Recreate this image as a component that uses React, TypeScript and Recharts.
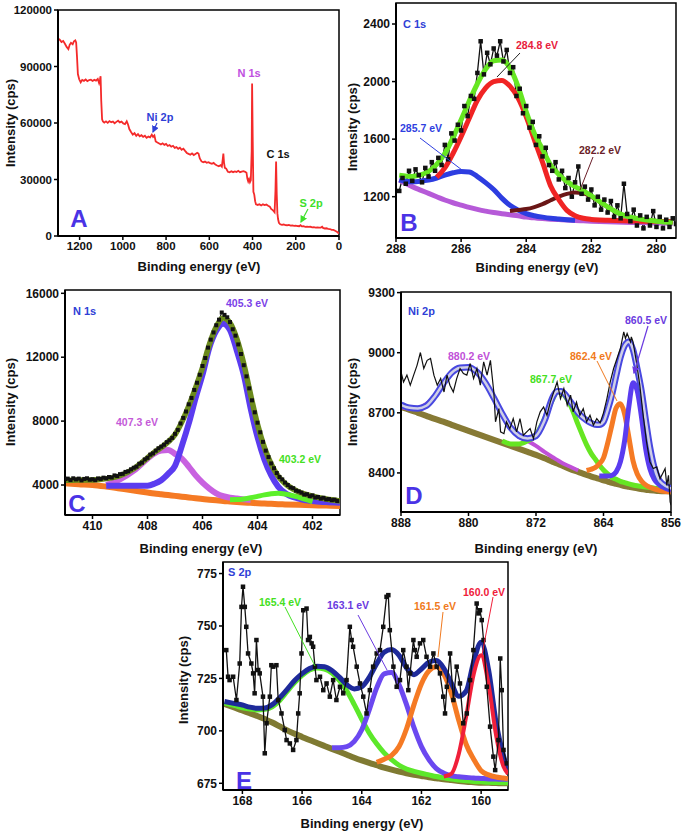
import React from 'react';
import { LineChart, Line, XAxis, YAxis, ReferenceArea } from 'recharts';

const FONT = '"Liberation Sans", Arial, Helvetica, sans-serif';

// ---------- A: survey ----------
const surveyEnergy = [
  1300, 1292, 1284, 1276, 1268, 1260, 1252, 1246, 1240, 1232,
  1226, 1220, 1216, 1212, 1208, 1202, 1195, 1188, 1180, 1172,
  1164, 1156, 1148, 1140, 1132, 1124, 1116, 1110, 1106, 1103,
  1100, 1096, 1092, 1086, 1078, 1070, 1062, 1054, 1046, 1038,
  1030, 1022, 1014, 1006, 998, 990, 982, 976, 970, 962,
  954, 946, 938, 930, 922, 914, 906, 898, 890, 882,
  874, 866, 860, 854, 848, 840, 832, 824, 816, 808,
  800, 792, 784, 776, 768, 760, 752, 744, 736, 728,
  720, 712, 704, 696, 688, 680, 672, 664, 656, 650,
  644, 636, 628, 620, 612, 604, 596, 588, 580, 572,
  564, 556, 548, 542, 538, 535, 532, 528, 522, 514,
  506, 498, 490, 482, 474, 466, 458, 450, 442, 434,
  428, 424, 420, 416, 412, 408, 404, 402, 399, 396,
  392, 388, 384, 376, 368, 360, 352, 344, 336, 328,
  320, 314, 308, 302, 298, 294, 291, 288, 285, 282,
  278, 272, 264, 256, 248, 240, 232, 224, 216, 208,
  200, 192, 184, 178, 172, 164, 156, 148, 140, 132,
  124, 116, 108, 100, 92, 84, 78, 74, 66, 58,
  50, 42, 34, 26, 18, 10, 4, 0,
];
const surveyCounts = [
  104800, 104200, 103000, 103600, 102100, 100400, 99200, 101500, 102600, 101800,
  103400, 103900, 102800, 95000, 86000, 83200, 81600, 82900, 82400, 83100,
  82200, 82800, 83000, 82300, 82900, 82500, 83400, 81200, 83000, 84800,
  72000, 62000, 60800, 60200, 60900, 60100, 61000, 60400, 60800, 59900,
  60600, 61200, 60300, 60700, 59800, 59400, 60900, 59200, 56800, 55200,
  53800, 54600, 53200, 54100, 52900, 53500, 52600, 53200, 52100, 52800,
  52400, 53800, 52600, 53400, 50200, 49600, 49100, 48600, 49200, 48400,
  48900, 47800, 48300, 47400, 47900, 46800, 47200, 46300, 46900, 45800,
  46400, 45200, 44100, 43600, 43200, 43900, 43000, 43600, 44200, 43800,
  41200, 39600, 39100, 39500, 38900, 39200, 38700, 38300, 38800, 37900,
  37400, 37000, 37600, 36800, 40500, 43800, 39000, 36200, 35800, 34100,
  33800, 34400, 33900, 34300, 34000, 34600, 33900, 34200, 34400, 34100,
  33600, 30500, 29000, 30200, 28600, 29600, 45000, 81000, 50000, 23500,
  22000, 18500, 16800, 16500, 16900, 16200, 16800, 16400, 16700, 16100,
  15600, 14400, 13900, 13200, 12600, 24000, 39500, 22000, 12000, 9000,
  7000, 6200, 5900, 6100, 5800, 5700, 5900, 5500, 5600, 5400,
  5500, 5300, 5200, 5700, 5100, 5200, 4900, 5000, 4800, 4900,
  4600, 4700, 4500, 4600, 4400, 4500, 4900, 4300, 4000, 4100,
  3800, 3700, 3300, 3200, 2800, 2200, 1700, 1200,
];

// ---------- B: C 1s ----------
const c1sEnergy = [
  287.9, 287.8, 287.7, 287.6, 287.5, 287.4, 287.3, 287.2, 287.1, 287.0,
  286.9, 286.8, 286.7, 286.6, 286.5, 286.4, 286.3, 286.2, 286.1, 286.0,
  285.9, 285.8, 285.7, 285.6, 285.5, 285.4, 285.3, 285.2, 285.1, 285.0,
  284.9, 284.8, 284.7, 284.6, 284.5, 284.4, 284.3, 284.2, 284.1, 284.0,
  283.9, 283.8, 283.7, 283.6, 283.5, 283.4, 283.3, 283.2, 283.1, 283.0,
  282.9, 282.8, 282.7, 282.6, 282.5, 282.4, 282.3, 282.2, 282.1, 282.0,
  281.9, 281.8, 281.7, 281.6, 281.5, 281.4, 281.3, 281.2, 281.1, 281.0,
  280.9, 280.8, 280.7, 280.6, 280.5, 280.4, 280.3, 280.2, 280.1, 280.0,
  279.9, 279.8, 279.7, 279.6, 279.5, 279.4,
];
const c1sCounts = [
  1240, 1330, 1290, 1380, 1310, 1390, 1350, 1300, 1400, 1340,
  1440, 1380, 1470, 1420, 1560, 1460, 1640, 1590, 1700, 1660,
  1830, 1760, 1900, 1880, 2060, 2280, 2050, 2200, 2120, 2230,
  2180, 2280, 2140, 2220, 2060, 2100, 1900, 1950, 1780, 1830,
  1680, 1720, 1560, 1620, 1480, 1540, 1420, 1380, 1440, 1320,
  1380, 1260, 1330, 1200, 1300, 1410, 1220, 1270, 1180, 1250,
  1140, 1200, 1110, 1180, 1090, 1170, 1060, 1140, 1050, 1290,
  1080, 1030, 1110, 1000, 1070, 980, 1060, 1000, 1100, 990,
  1060, 980, 1040, 990, 1050, 1010,
];
const c1sFitEnergy = [
  287.9, 287.5, 287.25, 287.0, 286.75, 286.5, 286.25, 286.0, 285.75, 285.5,
  285.25, 285.0, 284.75, 284.5, 284.25, 284.0, 283.75, 283.5, 283.25, 283.0,
  282.75, 282.5, 282.25, 282.0, 281.75, 281.5, 281.0, 280.5, 280.0, 279.5,
];
const c1sEnvelope = [
  1350, 1340, 1352, 1375, 1425, 1500, 1610, 1735, 1865, 1985,
  2085, 2145, 2150, 2095, 1965, 1790, 1640, 1530, 1420, 1355,
  1305, 1270, 1240, 1205, 1168, 1130, 1070, 1045, 1030, 1020,
];
const c1sPeak2848 = [
  null, null, null, null, 1335, 1400, 1500, 1617, 1745, 1870,
  1955, 2000, 2008, 1968, 1885, 1755, 1595, 1440, 1275, 1180,
  1105, 1068, 1050, 1042, 1038, 1036, 1033, 1030, 1028, 1026,
];
const c1sPeak2857 = [
  1318, 1304, 1308, 1316, 1330, 1350, 1366, 1375, 1372, 1340,
  1298, 1250, 1190, 1140, 1107, 1082, 1068, 1058, 1050, 1045,
  1040, 1036, null, null, null, null, null, null, null, null,
];
const c1sPeak2822 = [
  null, null, null, null, null, null, null, null, null, null,
  null, null, null, 1100, 1107, 1114, 1128, 1148, 1175, 1200,
  1220, 1230, 1224, 1200, 1165, 1128, 1068, 1042, 1032, 1028,
];
const c1sBackground = [
  1316, 1270, 1246, 1223, 1200, 1177, 1158, 1142, 1126, 1112,
  1100, 1090, 1082, 1074, 1067, 1058, 1053, 1048, 1044, 1041,
  1038, 1034, 1032, 1030, 1028, 1026, 1023, 1020, 1017, 1015,
];

// ---------- C: N 1s ----------
const n1sEnergy = [
  411.0, 410.9, 410.8, 410.7, 410.6, 410.5, 410.4, 410.3, 410.2, 410.1,
  410.0, 409.9, 409.8, 409.7, 409.6, 409.5, 409.4, 409.3, 409.2, 409.1,
  409.0, 408.9, 408.8, 408.7, 408.6, 408.5, 408.4, 408.3, 408.2, 408.1,
  408.0, 407.9, 407.8, 407.7, 407.6, 407.5, 407.4, 407.3, 407.2, 407.1,
  407.0, 406.9, 406.8, 406.7, 406.6, 406.5, 406.4, 406.3, 406.2, 406.1,
  406.0, 405.9, 405.8, 405.7, 405.6, 405.5, 405.4, 405.3, 405.2, 405.1,
  405.0, 404.9, 404.8, 404.7, 404.6, 404.5, 404.4, 404.3, 404.2, 404.1,
  404.0, 403.9, 403.8, 403.7, 403.6, 403.5, 403.4, 403.3, 403.2, 403.1,
  403.0, 402.9, 402.8, 402.7, 402.6, 402.5, 402.4, 402.3, 402.2, 402.1,
  402.0, 401.9, 401.8, 401.7, 401.6, 401.5, 401.4, 401.3, 401.2, 401.1,
];
const n1sCounts = [
  4380, 4400, 4310, 4420, 4350, 4400, 4290, 4380, 4420, 4330,
  4360, 4300, 4410, 4380, 4460, 4420, 4500, 4470, 4600, 4560,
  4680, 4700, 4820, 4860, 4980, 5080, 5150, 5330, 5400, 5600,
  5700, 5900, 5980, 6150, 6300, 6400, 6520, 6680, 6800, 6950,
  7200, 7450, 7850, 8200, 8600, 9050, 9450, 9950, 10400, 10900,
  11450, 11950, 12600, 13100, 13550, 14000, 14350, 14800, 14650, 14500,
  14200, 13750, 13350, 12800, 12200, 11500, 10800, 10050, 9300, 8550,
  7900, 7300, 6700, 6150, 5750, 5350, 5050, 4750, 4500, 4350,
  4150, 4000, 3850, 3800, 3650, 3600, 3520, 3400, 3420, 3300,
  3350, 3220, 3250, 3150, 3200, 3100, 3120, 3050, 3080, 3000,
];
const n1sFitEnergy = [
  411, 410.5, 410, 409.5, 409, 408.5, 408, 407.75, 407.5, 407.25,
  407, 406.75, 406.5, 406.25, 406, 405.75, 405.5, 405.25, 405, 404.75,
  404.5, 404.25, 404, 403.75, 403.5, 403.25, 403, 402.5, 402, 401.5, 401,
];
const n1sEnvelope = [
  4300, 4310, 4320, 4400, 4580, 5020, 5700, 6050, 6350, 6700,
  7150, 7950, 8950, 10100, 11350, 12800, 13900, 14450, 14150, 13150,
  11600, 9650, 7800, 6350, 5300, 4550, 4100, 3560, 3300, 3120, 3000,
];
const n1sPeak4073 = [
  null, null, null, 4000, 4350, 4900, 5650, 5980, 6150, 6190,
  5950, 5650, 5150, 4600, 4150, 3780, 3480, 3300, 3210, 3150,
  3100, 3060, null, null, null, null, null, null, null, null, null,
];
const n1sPeak4053 = [
  null, null, null, 3950, 3950, 3950, 3960, 4080, 4300, 4700,
  5200, 6450, 7850, 9450, 10900, 12600, 13650, 14100, 13700, 12400,
  10900, 8800, 7000, 5600, 4600, 3900, 3500, 3150, 2990, 2930, 2890,
];
const n1sPeak4032 = [
  null, null, null, null, null, null, null, null, null, null,
  null, null, null, null, null, null, null, null, 3080, 3090,
  3130, 3200, 3290, 3380, 3450, 3480, 3440, 3230, 2960, null, null,
];
const n1sBackground = [
  4110, 4050, 4000, 3900, 3780, 3660, 3530, 3470, 3420, 3370,
  3320, 3270, 3220, 3170, 3120, 3080, 3040, 3000, 2970, 2940,
  2910, 2885, 2860, 2840, 2820, 2800, 2785, 2760, 2735, 2710, 2690,
];

// ---------- D: Ni 2p ----------
const ni2pEnergy = [
  888.0, 887.7, 887.3, 886.9, 886.5, 886.1, 885.7, 885.3, 884.9, 884.5,
  884.1, 883.7, 883.3, 882.9, 882.55, 882.2, 881.8, 881.4, 881.0, 880.6,
  880.2, 879.8, 879.4, 879.0, 878.6, 878.2, 877.8, 877.4, 877.0, 876.8,
  876.4, 876.2, 875.8, 875.5, 875.1, 874.7, 874.3, 873.9, 873.5, 873.1,
  872.7, 872.3, 871.9, 871.5, 871.1, 870.7, 870.3, 869.9, 869.5, 869.1,
  868.7, 868.3, 867.9, 867.6, 867.2, 866.8, 866.4, 866.0, 865.6, 865.2,
  864.8, 864.4, 864.0, 863.6, 863.2, 862.8, 862.4, 862.0, 861.6, 861.4,
  861.2, 860.8, 860.7, 860.5, 860.1, 859.7, 859.3, 858.9, 858.5, 858.1,
  857.7, 857.3, 856.9, 856.7, 856.5, 856.3, 856.1, 856.0,
];
const ni2pCounts = [
  8904, 8854, 8888, 8838, 8888, 8937, 9001, 8921, 8962, 8971,
  8888, 8838, 8871, 8804, 8888, 8838, 8804, 8871, 8921, 8896,
  8888, 8946, 8871, 8921, 8838, 8954, 8888, 8962, 8804, 8655,
  8721, 8605, 8596, 8655, 8621, 8671, 8605, 8671, 8588, 8605,
  8621, 8571, 8655, 8705, 8729, 8688, 8754, 8804, 8854, 8771,
  8821, 8738, 8788, 8705, 8754, 8688, 8721, 8655, 8688, 8638,
  8671, 8650, 8700, 8770, 8854, 8921, 8971, 9021, 9104, 9071,
  9096, 9054, 9079, 9054, 8954, 8838, 8688, 8555, 8455, 8422,
  8430, 8372, 8405, 8422, 8338, 8388, 8255, 8239,
];
const ni2pFitEnergy = [
  888, 887, 886, 885, 884, 883, 882, 881, 880, 879,
  878, 877, 876, 875, 874, 873, 872, 871, 870, 869.5,
  869, 868, 867, 866, 865.5, 865, 864.5, 864, 863.5, 863,
  862.5, 862, 861.5, 861, 860.5, 860, 859.5, 859, 858.5, 858,
  857.5, 857, 856,
];
const ni2pEnvelope = [
  8740, 8725, 8722, 8735, 8782, 8845, 8900, 8925, 8928, 8904,
  8850, 8775, 8695, 8625, 8585, 8572, 8585, 8660, 8780, 8808,
  8808, 8760, 8700, 8662, 8650, 8642, 8640, 8655, 8715, 8790,
  8885, 8975, 9035, 9055, 9015, 8920, 8810, 8665, 8530, 8430,
  8370, 8345, 8322,
];
const ni2pPeak8802 = [
  8730, 8722, 8725, 8745, 8782, 8843, 8898, 8924, 8928, 8903,
  8848, 8770, 8690, 8625, 8580, 8560, 8535, 8505, 8478, 8465,
  8452, 8432, 8412, null, null, null, null, null, null, null,
  null, null, null, null, null, null, null, null, null, null,
  null, null, null,
];
const ni2pPeak8677 = [
  null, null, null, null, null, null, null, null, null, null,
  null, null, 8560, 8545, 8545, 8560, 8590, 8670, 8770, 8805,
  8800, 8745, 8640, 8540, 8500, 8470, 8440, 8415, 8395, 8378,
  8368, 8358, 8352, 8345, 8340, 8336, 8333, 8330, 8327, 8324,
  8321, 8318, 8315,
];
const ni2pPeak8624 = [
  null, null, null, null, null, null, null, null, null, null,
  null, null, null, null, null, null, null, null, null, null,
  null, null, null, 8412, 8418, 8426, 8445, 8475, 8550, 8640,
  8725, 8745, 8695, 8580, 8460, 8395, 8360, 8340, 8328, 8320,
  8314, 8310, 8305,
];
const ni2pPeak8605 = [
  null, null, null, null, null, null, null, null, null, null,
  null, null, null, null, null, null, null, null, null, null,
  null, null, null, null, null, null, 8385, 8385, 8385, 8388,
  8405, 8455, 8560, 8730, 8850, 8810, 8680, 8520, 8420, 8370,
  8345, 8330, 8313,
];
const ni2pBackground = [
  8728, 8715, 8700, 8685, 8670, 8656, 8640, 8625, 8610, 8595,
  8580, 8565, 8550, 8535, 8520, 8505, 8490, 8473, 8455, 8447,
  8438, 8420, 8405, 8390, 8383, 8376, 8370, 8363, 8357, 8350,
  8345, 8340, 8335, 8331, 8327, 8323, 8320, 8316, 8314, 8312,
  8310, 8309, 8308,
];

// ---------- E: S 2p ----------
const s2pEnergy = [
  168.54, 168.48, 168.43, 168.31, 168.2, 168.09, 168.03, 167.98, 167.92, 167.87,
  167.81, 167.7, 167.64, 167.59, 167.53, 167.47, 167.42, 167.31, 167.25, 167.19,
  167.08, 167.03, 166.97, 166.86, 166.8, 166.69, 166.58, 166.52, 166.41, 166.3,
  166.19, 166.13, 166.08, 166.02, 165.96, 165.85, 165.8, 165.74, 165.68, 165.63,
  165.57, 165.52, 165.4, 165.29, 165.18, 165.07, 164.96, 164.85, 164.73, 164.62,
  164.51, 164.4, 164.34, 164.29, 164.17, 164.06, 163.95, 163.84, 163.73, 163.62,
  163.5, 163.39, 163.28, 163.17, 163.11, 163.06, 162.94, 162.83, 162.72, 162.61,
  162.5, 162.44, 162.38, 162.27, 162.22, 162.16, 162.05, 161.94, 161.83, 161.71,
  161.6, 161.49, 161.38, 161.27, 161.21, 161.15, 161.04, 160.93, 160.82, 160.71,
  160.6, 160.48, 160.37, 160.26, 160.15, 160.09, 160.04, 159.98, 159.92, 159.81,
  159.7, 159.59, 159.53, 159.42, 159.36, 159.31, 159.25, 159.14,
];
const s2pCounts = [
  738.5, 725.8, 724.2, 725.8, 714.7, 732.1, 759.1, 768.7, 759.1, 749.6,
  736.9, 732.1, 727.4, 717.9, 743.3, 729, 727.4, 716.3, 689.3, 703.6,
  716.3, 731.3, 730.6, 731.3, 714.7, 708.3, 700.4, 695.6, 694, 690.9,
  695.6, 708.3, 717.9, 736.9, 757.5, 758.3, 743.3, 744.8, 741.7, 740.1,
  730.6, 724.2, 725.8, 719.4, 722.6, 716.3, 724.2, 714.7, 721, 717.9,
  724.2, 749.6, 743.3, 740.1, 730.6, 722.6, 716.3, 708.3, 719.4, 730.6,
  736.9, 738.5, 749.6, 763.9, 764.7, 748, 730.6, 721, 724.2, 738.5,
  730.6, 719.4, 727.4, 743.3, 738.5, 735.3, 741.7, 743.3, 735.3, 730.6,
  736.9, 730.6, 727.4, 716.3, 708.3, 721, 736.9, 714.7, 730.6, 722.6,
  703.6, 708.3, 724.2, 738.5, 760.7, 756, 757.5, 752.8, 743.3, 721,
  702, 687.7, 681.3, 695.6, 734.5, 719.4, 690.9, 684.5,
];
const s2pFitEnergy = [
  168.6, 168.25, 168.0, 167.75, 167.5, 167.25, 167.0, 166.75, 166.5, 166.25,
  166.0, 165.75, 165.5, 165.25, 165.0, 164.75, 164.5, 164.25, 164.0, 163.75,
  163.5, 163.25, 163.0, 162.75, 162.5, 162.25, 162.0, 161.75, 161.5, 161.25,
  161.0, 160.75, 160.5, 160.25, 160.0, 159.75, 159.5, 159.25, 159.1,
];
const s2pEnvelope = [
  714, 713, 712.3, 711.3, 710.8, 710.9, 712.5, 715.8, 719.8, 724,
  727.3, 729.7, 730.8, 730.6, 728.8, 725.6, 722, 720, 721, 725.5,
  732, 737.5, 738.8, 736, 730, 726.8, 729.5, 732.7, 733.5, 729.8,
  722.8, 716.5, 719, 733, 742.3, 729, 704, 688, 681,
];
const s2pPeak1654 = [
  713.2, 712, 711, 710.4, 710, 710.3, 711.5, 714.5, 718.8, 723,
  726.5, 729, 730, 729.5, 727.6, 724, 719, 712.5, 705.5, 699,
  693.8, 689.5, 686.3, 683.6, 681.8, 680.7, 679.8, 679, 678.2, 677.6,
  677, 676.6, 676.2, 675.9, 675.7, 675.5, 675.4, 675.3, 675.2,
];
const s2pPeak1631 = [
  null, null, null, null, null, null, null, null, null, null,
  null, null, null, null, 692, 692, 692.5, 695, 700.5, 710,
  720.5, 727.2, 727.8, 722, 712.5, 701.5, 692.5, 686.3, 682, 679.8,
  678.6, 678.1, 677.8, 677.5, 677.3, 677.1, 677, 676.9, 676.9,
];
const s2pPeak1615 = [
  null, null, null, null, null, null, null, null, null, null,
  null, null, null, null, null, null, null, null, null, null,
  685, 686.5, 688.3, 692.5, 701, 712.5, 722.5, 728.6, 730.6, 727,
  718, 705, 693.5, 686.5, 681, 679, 678, 677.5, 677.2,
];
const s2pPeak1600 = [
  null, null, null, null, null, null, null, null, null, null,
  null, null, null, null, null, null, null, null, null, null,
  null, null, null, null, null, null, null, null, null, 678.2,
  679.5, 689, 707, 727, 736, 722, 698, 683, 679.5,
];
const s2pBackground = [
  712.8, 711, 709.7, 708.4, 707.1, 705.6, 704, 702.1, 700.2, 698.6,
  697.1, 695.6, 694.2, 692.8, 691.4, 690, 688.6, 687.2, 685.9, 684.7,
  683.6, 682.5, 681.5, 680.6, 679.8, 679.1, 678.5, 677.9, 677.4, 676.9,
  676.5, 676.1, 675.7, 675.5, 675.3, 675.2, 675.1, 675, 675,
];

const pairs = (xs: number[], ys: (number | null)[]) =>
  xs.map((e, i) => ({ e, v: ys[i] })).filter((p) => p.v != null);

const squareDot = (size: number) => (props: any) => {
  const { cx, cy, index } = props;
  if (cx == null || cy == null) return <g key={`n-${index}`} />;
  return (
    <rect
      key={`sq-${index}`}
      x={cx - size / 2}
      y={cy - size / 2}
      width={size}
      height={size}
      fill="#111"
    />
  );
};

type PanelProps = {
  left: number;
  top: number;
  width: number;
  height: number;
  margin: { top: number; right: number; bottom: number; left: number };
  yWidth: number;
  xHeight: number;
  xDomain: [number, number];
  yDomain: [number, number];
  xTicks: number[];
  yTicks: number[];
  fontSize?: number;
  children: React.ReactNode;
};

function Panel(p: PanelProps) {
  const tickStyle = { fill: '#111', fontSize: p.fontSize ?? 12, fontWeight: 700, fontFamily: FONT };
  return (
    <div style={{ position: 'absolute', left: p.left, top: p.top }}>
      <LineChart width={p.width} height={p.height} margin={p.margin}>
        <XAxis
          type="number"
          dataKey="e"
          domain={p.xDomain}
          ticks={p.xTicks}
          reversed
          allowDataOverflow
          height={p.xHeight}
          tick={tickStyle}
          tickSize={4}
          tickMargin={2}
          tickLine={{ stroke: '#000', strokeWidth: 1.5 }}
          axisLine={{ stroke: '#000', strokeWidth: 2 }}
        />
        <YAxis
          type="number"
          dataKey="v"
          domain={p.yDomain}
          ticks={p.yTicks}
          allowDataOverflow
          width={p.yWidth}
          tick={tickStyle}
          tickSize={4}
          tickMargin={2}
          tickLine={{ stroke: '#000', strokeWidth: 1.5 }}
          axisLine={{ stroke: '#000', strokeWidth: 2 }}
        />
        {p.children}
        <ReferenceArea
          x1={p.xDomain[0]}
          x2={p.xDomain[1]}
          y1={p.yDomain[0]}
          y2={p.yDomain[1]}
          fill="none"
          stroke="#000"
          strokeWidth={1.5}
        />
      </LineChart>
    </div>
  );
}

const fit = (key: string, data: any[], color: string, width: number) => (
  <Line
    key={key}
    data={data}
    dataKey="v"
    type="monotone"
    stroke={color}
    strokeWidth={width}
    dot={false}
    activeDot={false}
    isAnimationActive={false}
  />
);

const rawLine = (key: string, data: any[], width: number, dotSize: number) => (
  <Line
    key={key}
    data={data}
    dataKey="v"
    type="linear"
    stroke="#111"
    strokeWidth={width}
    dot={dotSize > 0 ? squareDot(dotSize) : false}
    activeDot={false}
    isAnimationActive={false}
  />
);

function Txt({ x, y, c = '#111', s = 10.5, a = 'middle', children }: any) {
  return (
    <text
      x={x}
      y={y}
      fill={c}
      fontSize={s}
      fontWeight={700}
      fontFamily={FONT}
      textAnchor={a}
      dominantBaseline="central"
    >
      {children}
    </text>
  );
}

function YTitle({ x, y }: { x: number; y: number }) {
  return (
    <text
      x={x}
      y={y}
      transform={`rotate(-90 ${x} ${y})`}
      fill="#111"
      fontSize={13}
      fontWeight={700}
      fontFamily={FONT}
      textAnchor="middle"
      dominantBaseline="central"
    >
      Intensity (cps)
    </text>
  );
}

const LETTER = '#4a33e6';
const LABEL_BLUE = '#2f3fd6';

export default function App() {
  return (
    <div
      style={{
        position: 'absolute',
        left: 0,
        top: 0,
        width: 683,
        height: 833,
        background: '#fff',
        overflow: 'hidden',
      }}
    >
      <Panel
        left={0}
        top={0}
        width={345}
        height={275}
        margin={{ top: 10, right: 6, bottom: 10, left: 8 }}
        yWidth={50}
        xHeight={29}
        xDomain={[0, 1300]}
        yDomain={[0, 120000]}
        xTicks={[1200, 1000, 800, 600, 400, 200, 0]}
        yTicks={[0, 30000, 60000, 90000, 120000]}
        fontSize={11.5}
      >
        {[
          <Line
            key="survey"
            data={pairs(surveyEnergy, surveyCounts)}
            dataKey="v"
            type="linear"
            stroke="#f42a2a"
            strokeWidth={1.8}
            dot={false}
            activeDot={false}
            isAnimationActive={false}
          />,
        ]}
      </Panel>

      <Panel
        left={345}
        top={0}
        width={338}
        height={275}
        margin={{ top: 3, right: 7, bottom: 8, left: 6 }}
        yWidth={45}
        xHeight={29}
        xDomain={[279.4, 288]}
        yDomain={[913, 2546]}
        xTicks={[288, 286, 284, 282, 280]}
        yTicks={[1200, 1600, 2000, 2400]}
      >
        {[
          rawLine('c-raw', pairs(c1sEnergy, c1sCounts), 1.3, 4.5),
          fit('c-bg', pairs(c1sFitEnergy, c1sBackground), '#b65ad8', 5),
          fit('c-2857', pairs(c1sFitEnergy, c1sPeak2857), '#2d3de0', 5),
          fit('c-2822', pairs(c1sFitEnergy, c1sPeak2822), '#6a1616', 4),
          fit('c-2848', pairs(c1sFitEnergy, c1sPeak2848), '#f02424', 5),
          fit('c-env', pairs(c1sFitEnergy, c1sEnvelope), '#66e622', 5),
        ]}
      </Panel>

      <Panel
        left={0}
        top={275}
        width={345}
        height={275}
        margin={{ top: 15, right: 5, bottom: 8, left: 8 }}
        yWidth={57}
        xHeight={27}
        xDomain={[401, 411]}
        yDomain={[2122, 16207]}
        xTicks={[410, 408, 406, 404, 402]}
        yTicks={[4000, 8000, 12000, 16000]}
      >
        {[
          rawLine('n-raw', pairs(n1sEnergy, n1sCounts), 1, 4),
          fit('n-bg', pairs(n1sFitEnergy, n1sBackground), '#f57a24', 6),
          fit('n-4073', pairs(n1sFitEnergy, n1sPeak4073), '#c861e0', 6),
          fit('n-4053', pairs(n1sFitEnergy, n1sPeak4053), '#5b3cf0', 6),
          fit('n-4032', pairs(n1sFitEnergy, n1sPeak4032), '#5cf02a', 5),
          fit('n-env', pairs(n1sFitEnergy, n1sEnvelope), '#6b8a1c', 5.5),
        ]}
      </Panel>

      <Panel
        left={345}
        top={275}
        width={338}
        height={275}
        margin={{ top: 17, right: 12, bottom: 8, left: 6 }}
        yWidth={50}
        xHeight={30}
        xDomain={[856, 888]}
        yDomain={[8205, 9303]}
        xTicks={[888, 880, 872, 864, 856]}
        yTicks={[8400, 8700, 9000, 9300]}
      >
        {[
          fit('d-bg', pairs(ni2pFitEnergy, ni2pBackground), '#877a35', 6),
          fit('d-8802', pairs(ni2pFitEnergy, ni2pPeak8802), '#c050d8', 4),
          fit('d-8677', pairs(ni2pFitEnergy, ni2pPeak8677), '#66e622', 5),
          fit('d-8624', pairs(ni2pFitEnergy, ni2pPeak8624), '#f57a24', 5),
          fit('d-8605', pairs(ni2pFitEnergy, ni2pPeak8605), '#5a3cf0', 5),
          fit('d-env', pairs(ni2pFitEnergy, ni2pEnvelope), '#4848e0', 6.5),
          fit('d-env-in', pairs(ni2pFitEnergy, ni2pEnvelope), '#cfcfe6', 2.5),
          rawLine('d-raw', pairs(ni2pEnergy, ni2pCounts), 1.2, 0),
        ]}
      </Panel>

      <Panel
        left={160}
        top={540}
        width={360}
        height={293}
        margin={{ top: 22, right: 12, bottom: 10, left: 13 }}
        yWidth={50}
        xHeight={33}
        xDomain={[159.1, 168.65]}
        yDomain={[671.8, 780.5]}
        xTicks={[168, 166, 164, 162, 160]}
        yTicks={[675, 700, 725, 750, 775]}
      >
        {[
          fit('s-bg', pairs(s2pFitEnergy, s2pBackground), '#7f7a32', 6),
          fit('s-1654', pairs(s2pFitEnergy, s2pPeak1654), '#5ce82a', 5),
          fit('s-1631', pairs(s2pFitEnergy, s2pPeak1631), '#6b48f0', 5),
          fit('s-1615', pairs(s2pFitEnergy, s2pPeak1615), '#f57a24', 5),
          fit('s-env', pairs(s2pFitEnergy, s2pEnvelope), '#1e2a9a', 5),
          fit('s-1600', pairs(s2pFitEnergy, s2pPeak1600), '#f0203a', 4),
          rawLine('s-raw', pairs(s2pEnergy, s2pCounts), 1.3, 4.5),
        ]}
      </Panel>

      <svg
        width={683}
        height={833}
        style={{ position: 'absolute', left: 0, top: 0, pointerEvents: 'none' }}
      >
        <defs>
          <marker id="arB" markerWidth="6" markerHeight="6" refX="5" refY="3" orient="auto">
            <path d="M0,0 L6,3 L0,6 Z" fill="#2f3fd6" />
          </marker>
          <marker id="arG" markerWidth="6" markerHeight="6" refX="5" refY="3" orient="auto">
            <path d="M0,0 L6,3 L0,6 Z" fill="#3ee02a" />
          </marker>
          <marker id="arP" markerWidth="6" markerHeight="6" refX="5" refY="3" orient="auto">
            <path d="M0,0 L6,3 L0,6 Z" fill="#6a3ae0" />
          </marker>
        </defs>

        {/* A */}
        <YTitle x={10} y={123} />
        <Txt x={199} y={266} s={13}>Binding energy (eV)</Txt>
        <Txt x={79} y={218} s={24} c={LETTER}>A</Txt>
        <Txt x={249} y={73} s={11} c="#c04fe0">N 1s</Txt>
        <Txt x={160} y={117} s={11} c={LABEL_BLUE}>Ni 2p</Txt>
        <Txt x={278} y={154} s={11}>C 1s</Txt>
        <Txt x={311} y={203} s={11} c="#3ee02a">S 2p</Txt>
        <line x1={157} y1={123} x2={153} y2={132} stroke={LABEL_BLUE} strokeWidth={1.2} markerEnd="url(#arB)" />
        <line x1={308} y1={209} x2={301} y2={222} stroke="#3ee02a" strokeWidth={1.2} markerEnd="url(#arG)" />

        {/* B */}
        <YTitle x={352} y={127} />
        <Txt x={537} y={267} s={13}>Binding energy (eV)</Txt>
        <Txt x={409} y={222} s={24} c={LETTER}>B</Txt>
        <Txt x={403} y={24} s={11} c={LABEL_BLUE} a="start">C 1s</Txt>
        <Txt x={537} y={45} c="#e8203c">284.8 eV</Txt>
        <Txt x={421} y={128} c="#2f3fe0">285.7 eV</Txt>
        <Txt x={600} y={150} c="#6b1f2a">282.2 eV</Txt>
        <line x1={520} y1={53} x2={497} y2={77} stroke="#222" strokeWidth={1} />
        <line x1={420} y1={138} x2={462} y2={170} stroke="#2f3fe0" strokeWidth={1} />
        <line x1={593} y1={157} x2={580} y2={190} stroke="#6b1f2a" strokeWidth={1} />

        {/* C */}
        <YTitle x={10} y={402} />
        <Txt x={201} y={548} s={13}>Binding energy (eV)</Txt>
        <Txt x={77} y={503} s={24} c={LETTER}>C</Txt>
        <Txt x={73} y={311} s={11} c={LABEL_BLUE} a="start">N 1s</Txt>
        <Txt x={247} y={303} c="#7b3fe8">405.3 eV</Txt>
        <Txt x={137} y={422} c="#c45ad8">407.3 eV</Txt>
        <Txt x={300} y={459} c="#44e022">403.2 eV</Txt>

        {/* D */}
        <YTitle x={352} y={402} />
        <Txt x={536} y={548} s={13}>Binding energy (eV)</Txt>
        <Txt x={414} y={495} s={24} c={LETTER}>D</Txt>
        <Txt x={408} y={311} s={11} c={LABEL_BLUE} a="start">Ni 2p</Txt>
        <Txt x={469} y={356} c="#c050d8">880.2 eV</Txt>
        <Txt x={551} y={379} c="#44e022">867.7 eV</Txt>
        <Txt x={591} y={356} c="#f07a20">862.4 eV</Txt>
        <Txt x={646} y={320} c="#6a3ae0">860.5 eV</Txt>
        <line x1={597} y1={361} x2={617} y2={401} stroke="#f07a20" strokeWidth={1} />
        <line x1={648} y1={326} x2={634} y2={373} stroke="#6a3ae0" strokeWidth={1.2} markerEnd="url(#arP)" />

        {/* E */}
        <YTitle x={183} y={680} />
        <Txt x={362} y={823} s={13}>Binding energy (eV)</Txt>
        <Txt x={244} y={780} s={24} c={LETTER}>E</Txt>
        <Txt x={228} y={572} s={11} c={LABEL_BLUE} a="start">S 2p</Txt>
        <Txt x={280} y={602} c="#44e022">165.4 eV</Txt>
        <Txt x={348} y={605} c="#6a3ae0">163.1 eV</Txt>
        <Txt x={435} y={606} c="#f07a20">161.5 eV</Txt>
        <Txt x={484} y={592} c="#f0203a">160.0 eV</Txt>
        <line x1={285} y1={607} x2={315} y2={666} stroke="#44e022" strokeWidth={1} />
        <line x1={358} y1={615} x2={387} y2={670} stroke="#6a3ae0" strokeWidth={1} />
        <line x1={443} y1={612} x2={438} y2={657} stroke="#f07a20" strokeWidth={1} />
        <line x1={493} y1={597} x2={482} y2={655} stroke="#f0203a" strokeWidth={1} />
      </svg>
    </div>
  );
}
